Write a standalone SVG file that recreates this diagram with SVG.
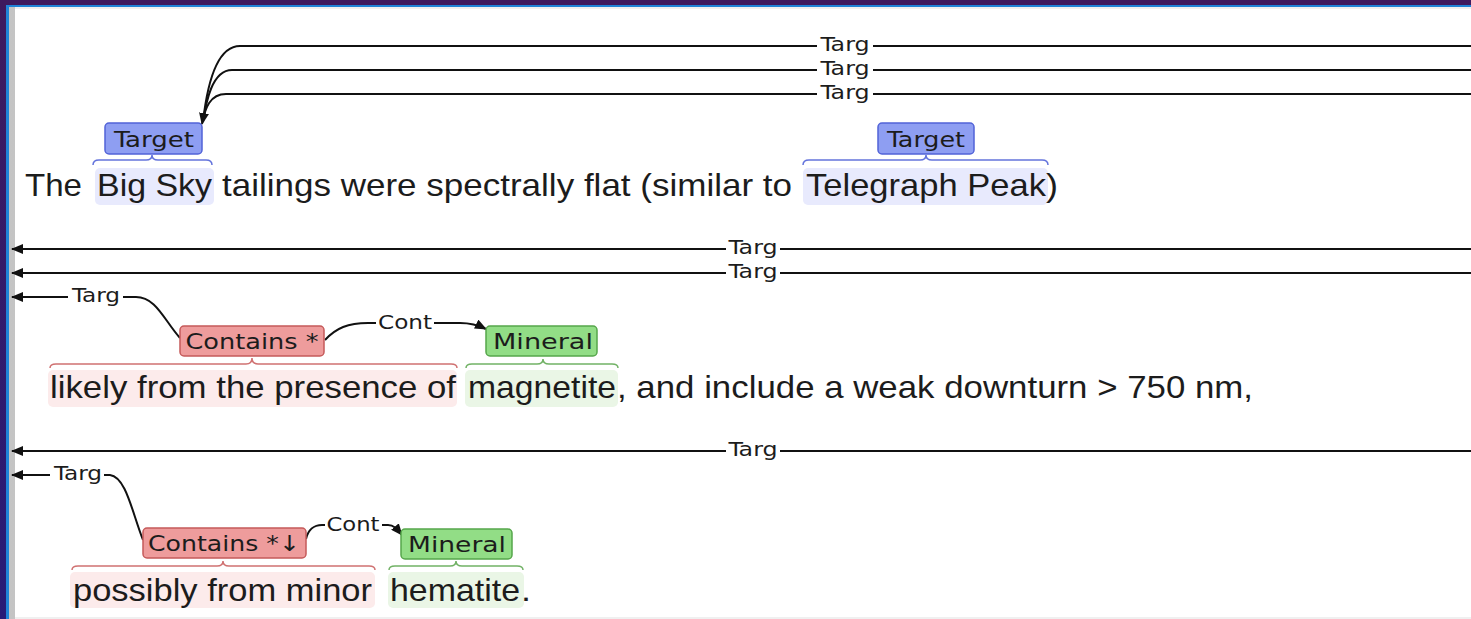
<svg xmlns="http://www.w3.org/2000/svg" width="1471" height="619" viewBox="0 0 1471 619">
<defs>
<linearGradient id="bg" x1="0" y1="0" x2="0" y2="1">
<stop offset="0" stop-color="#3e1a5e"/>
<stop offset="1" stop-color="#271b78"/>
</linearGradient>
<linearGradient id="gr" x1="0" y1="0" x2="1" y2="0">
<stop offset="0" stop-color="#c4c4c4"/>
<stop offset="1" stop-color="#f2f2f2"/>
</linearGradient>
<marker id="ah" markerWidth="12" markerHeight="10" refX="11" refY="5" orient="auto" markerUnits="userSpaceOnUse">
<path d="M0,0 L12,5 L0,10 Z" fill="#111"/>
</marker>
<style>
.txt{font-family:"Liberation Sans",Arial,sans-serif;font-size:32px;fill:#1c1c1c}
.lbl{font-family:"DejaVu Sans Condensed","DejaVu Sans",sans-serif;font-size:22px;fill:#1c1c1c;text-anchor:middle}
.arcl{font-family:"DejaVu Sans Condensed","DejaVu Sans",sans-serif;font-size:20px;fill:#1c1c1c;text-anchor:middle}
.arc{fill:none;stroke:#111;stroke-width:2}
.arr{marker-end:url(#ah)}
.tgt{fill:#8e9ef2;stroke:#5263d8;stroke-width:1.5}
.con{fill:#ee9c9c;stroke:#c55a5a;stroke-width:1.5}
.min{fill:#92dd86;stroke:#56a64b;stroke-width:1.5}
.hb{fill:#e8eafd}
.hr{fill:#fcebeb}
.hg{fill:#eaf6e6}
.bb{fill:none;stroke:#6474dc;stroke-width:1.5}
.br{fill:none;stroke:#d07272;stroke-width:1.5}
.bg2{fill:none;stroke:#72b266;stroke-width:1.5}
</style>
</defs>

<!-- frame -->
<rect x="0" y="0" width="1471" height="619" fill="url(#bg)"/>
<rect x="6" y="5" width="1465" height="614" fill="#1f84d8"/>
<rect x="9" y="7" width="1462" height="612" fill="url(#gr)"/>
<rect x="15" y="8" width="1456" height="611" fill="#ffffff"/>
<rect x="15" y="7" width="1456" height="2" fill="#f0f0f0"/>
<rect x="15" y="617" width="1456" height="2" fill="#f0f0f0"/>

<!-- highlights -->
<g id="highlights">
<rect class="hb" x="95" y="168" width="119" height="37" rx="5"/>
<rect class="hb" x="803" y="168" width="245" height="37" rx="5"/>
<rect class="hr" x="48" y="370" width="409" height="37" rx="5"/>
<rect class="hg" x="465" y="370" width="153" height="37" rx="5"/>
<rect class="hr" x="70" y="572" width="305" height="36" rx="5"/>
<rect class="hg" x="388" y="572" width="136" height="36" rx="5"/>
</g>

<!-- sentence text -->
<g id="text">
<text class="txt" x="25" y="196" textLength="57" lengthAdjust="spacingAndGlyphs">The</text>
<text class="txt" x="97" y="196" textLength="115" lengthAdjust="spacingAndGlyphs">Big Sky</text>
<text class="txt" x="222" y="196" textLength="570" lengthAdjust="spacingAndGlyphs">tailings were spectrally flat (similar to</text>
<text class="txt" x="806" y="196" textLength="240" lengthAdjust="spacingAndGlyphs">Telegraph Peak</text>
<text class="txt" x="1046" y="196" textLength="12" lengthAdjust="spacingAndGlyphs">)</text>
<text class="txt" x="50" y="398" textLength="406" lengthAdjust="spacingAndGlyphs">likely from the presence of</text>
<text class="txt" x="468" y="398" textLength="148" lengthAdjust="spacingAndGlyphs">magnetite</text>
<text class="txt" x="617" y="398" textLength="636" lengthAdjust="spacingAndGlyphs">, and include a weak downturn &gt; 750 nm,</text>
<text class="txt" x="73" y="601" textLength="299" lengthAdjust="spacingAndGlyphs">possibly from minor</text>
<text class="txt" x="390" y="601" textLength="130" lengthAdjust="spacingAndGlyphs">hematite</text>
<text class="txt" x="521" y="601" textLength="10" lengthAdjust="spacingAndGlyphs">.</text>
</g>

<!-- braces -->
<g id="braces">
<path class="bb" d="M93,165 Q93,160 99,160 L146,160 Q152,160 152,155 Q152,160 158,160 L206,160 Q212,160 212,165"/>
<path class="bb" d="M803,165 Q803,160 809,160 L920,160 Q926,160 926,155 Q926,160 932,160 L1042,160 Q1048,160 1048,165"/>
<path class="br" d="M50,368 Q50,364 56,364 L246,364 Q252,364 252,358 Q252,364 258,364 L451,364 Q457,364 457,368"/>
<path class="bg2" d="M466,368 Q466,364 472,364 L537,364 Q543,364 543,359 Q543,364 549,364 L612,364 Q618,364 618,368"/>
<path class="br" d="M72,570 Q72,566 78,566 L217,566 Q223,566 223,561 Q223,566 229,566 L369,566 Q375,566 375,570"/>
<path class="bg2" d="M389,570 Q389,566 395,566 L450,566 Q456,566 456,561 Q456,566 462,566 L517,566 Q523,566 523,570"/>
</g>

<!-- connectors -->
<g id="connectors">
<path class="arc" d="M1471,46 L873,46 M817,46 L240,46 C214,46 206,95 203,122"/>
<path class="arc" d="M1471,70 L873,70 M817,70 L232,70 C212,70 206,102 203,122"/>
<path class="arc arr" d="M1471,94 L873,94 M817,94 L226,94 C210,94 205,108 202,124"/>
<path class="arc" d="M1471,249 L780,249 M726,249 L20,249"/>
<path class="arc arr" d="M20,249 L12,249"/>
<path class="arc arr" d="M1471,273 L780,273 M726,273 L12,273"/>
<path class="arc arr" d="M68,297 L12,297"/>
<path class="arc" d="M123,297 L136,297 C156,297 164,320 180,338"/>
<path class="arc" d="M325,340 C336,328 348,323 368,323 L376,323"/>
<path class="arc arr" d="M434,323 L460,323 C470,323 478,325 486,329"/>
<path class="arc arr" d="M1471,451 L780,451 M726,451 L12,451"/>
<path class="arc arr" d="M50,475 L12,475"/>
<path class="arc" d="M104,475 L110,475 C126,477 132,512 143,540"/>
<path class="arc" d="M306,539 C308,530 314,525 322,525 L325,525"/>
<path class="arc arr" d="M382,525 L388,525 C394,525 397,529 402,535"/>
</g>
<g id="arc-labels">
<text class="arcl" x="845" y="51" textLength="49" lengthAdjust="spacingAndGlyphs">Targ</text>
<text class="arcl" x="845" y="75" textLength="49" lengthAdjust="spacingAndGlyphs">Targ</text>
<text class="arcl" x="845" y="99" textLength="49" lengthAdjust="spacingAndGlyphs">Targ</text>
<text class="arcl" x="753" y="254" textLength="49" lengthAdjust="spacingAndGlyphs">Targ</text>
<text class="arcl" x="753" y="278" textLength="49" lengthAdjust="spacingAndGlyphs">Targ</text>
<text class="arcl" x="96" y="302" textLength="48" lengthAdjust="spacingAndGlyphs">Targ</text>
<text class="arcl" x="405" y="329" textLength="54" lengthAdjust="spacingAndGlyphs">Cont</text>
<text class="arcl" x="753" y="456" textLength="49" lengthAdjust="spacingAndGlyphs">Targ</text>
<text class="arcl" x="78" y="480" textLength="48" lengthAdjust="spacingAndGlyphs">Targ</text>
<text class="arcl" x="353" y="531" textLength="53" lengthAdjust="spacingAndGlyphs">Cont</text>
</g>

<!-- nodes -->
<g id="target-bigsky">
<rect class="tgt" x="105" y="123" width="97" height="31" rx="4"/>
<text class="lbl" x="154" y="147" textLength="80" lengthAdjust="spacingAndGlyphs">Target</text>
</g>
<g id="target-telegraph">
<rect class="tgt" x="878" y="123" width="96" height="31" rx="4"/>
<text class="lbl" x="926" y="147" textLength="78" lengthAdjust="spacingAndGlyphs">Target</text>
</g>
<g id="contains-1">
<rect class="con" x="180" y="326" width="144" height="30" rx="4"/>
<text class="lbl" x="252" y="349" textLength="133" lengthAdjust="spacingAndGlyphs">Contains *</text>
</g>
<g id="mineral-1">
<rect class="min" x="486" y="326" width="111" height="30" rx="4"/>
<text class="lbl" x="543" y="349" textLength="100" lengthAdjust="spacingAndGlyphs">Mineral</text>
</g>
<g id="contains-2">
<rect class="con" x="143" y="528" width="163" height="30" rx="4"/>
<text class="lbl" x="224" y="551" textLength="152" lengthAdjust="spacingAndGlyphs">Contains *↓</text>
</g>
<g id="mineral-2">
<rect class="min" x="401" y="529" width="111" height="30" rx="4"/>
<text class="lbl" x="457" y="552" textLength="98" lengthAdjust="spacingAndGlyphs">Mineral</text>
</g>
</svg>
